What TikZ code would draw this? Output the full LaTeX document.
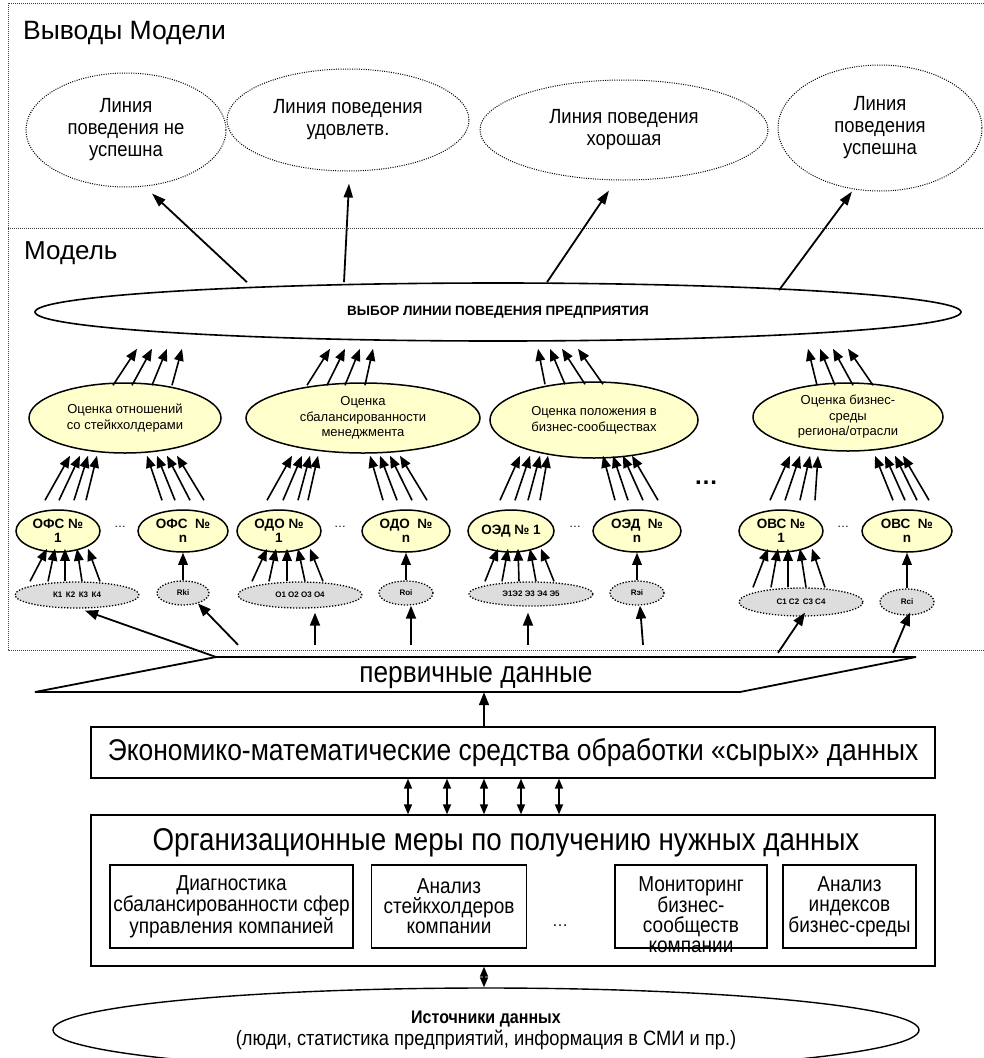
\documentclass[tikz,border=0pt]{standalone}
\usepackage{fontspec}
\setmainfont{Liberation Sans}
\newfontfamily\nrw[FakeStretch=0.88]{Liberation Sans}
\newfontfamily\nrwt[FakeStretch=0.9]{Liberation Sans}
\usetikzlibrary{arrows.meta,shapes.geometric,calc}
\definecolor{ylw}{RGB}{255,255,204}
\definecolor{gry}{RGB}{221,221,221}
\begin{document}
\begin{tikzpicture}[x=1pt,y=-1pt,
  frame/.style={draw=black!75, line width=1pt, dash pattern=on 1pt off 1pt},
  outell/.style={ellipse, draw, line width=1pt, dash pattern=on 1pt off 1.3pt, inner sep=0pt, align=center, font=\nrwt\fontsize{20.5}{22}\selectfont},
  bigell/.style={ellipse, draw, line width=1.6pt, inner sep=0pt, font=\bfseries\fontsize{13.5}{16}\selectfont},
  midell/.style={ellipse, draw, line width=1.5pt, fill=ylw, inner sep=0pt, align=center, font=\fontsize{13}{15.5}\selectfont},
  smell/.style={ellipse, draw, line width=1.5pt, fill=ylw, inner sep=0pt, align=center, minimum height=42, font=\bfseries\fontsize{13.5}{14.5}\selectfont},
  greyell/.style={ellipse, draw, fill=gry, line width=1.3pt, dash pattern=on 1.3pt off 1.7pt, inner sep=0pt, font=\bfseries\fontsize{8}{9}\selectfont},
  arr/.style={line width=1.8pt, -{Triangle[length=14pt,width=9pt]}},
  fanarr/.style={line width=1.6pt, -{Triangle[length=12pt,width=9.5pt]}},
  lowarr/.style={line width=1.8pt, -{Triangle[length=13pt,width=10pt]}},
  dbl/.style={line width=1.5pt, {Triangle[length=10pt,width=8pt]}-{Triangle[length=10pt,width=8pt]}},
  box/.style={draw, line width=1.3pt, inner sep=0pt, align=center},
  boxtxt/.style={align=center, font=\nrw\fontsize{21.6}{20}\selectfont, inner sep=0pt},
  dots/.style={anchor=base, inner sep=0pt, font=\fontsize{12}{14}\selectfont}
]
\useasboundingbox (0,0) rectangle (984,1058);
\clip (0,0) rectangle (984,1058);

% frames
\draw[frame] (8,3) rectangle (995,650);
\draw[frame] (8,228) -- (995,228);
\node[anchor=west, inner sep=0pt, font=\fontsize{26.5}{30}\selectfont] (ttl1) at (23,33) {Выводы Модели};
\node[anchor=west, inner sep=0pt, font=\fontsize{26}{30}\selectfont] (ttl2) at (24,253) {Модель};

% outcome ellipses
\node[outell, minimum width=200, minimum height=114] (t1) at (126,130) {Линия\\поведения не\\успешна};
\node[outell, minimum width=242, minimum height=102] (t2) at (348,120) {Линия поведения\\удовлетв.};
\node[outell, minimum width=288, minimum height=100] (t3) at (624,130) {Линия поведения\\хорошая};
\node[outell, minimum width=204, minimum height=126] (t4) at (880,128) {Линия\\поведения\\успешна};

% big ellipse
\node[bigell, minimum width=926, minimum height=58] (big) at (498,312) {ВЫБОР ЛИНИИ ПОВЕДЕНИЯ ПРЕДПРИЯТИЯ};

\draw[arr] ([xshift=-251]big.north) -- ([xshift=26,yshift=-6]t1.south);
\draw[arr] ([xshift=-154]big.north) -- ([xshift=1,yshift=-12]t2.south);
\draw[arr] ([xshift=49]big.north) -- ([xshift=-15,yshift=-10]t3.south);
\draw[arr] ([xshift=281,yshift=-8]big.north) -- ([xshift=-28]t4.south);

% middle ellipses
\node[midell, minimum width=192, minimum height=70] (A) at (125,418) {Оценка отношений\\со стейкхолдерами};
\node[midell, minimum width=234, minimum height=70] (B) at (363,418) {Оценка\\сбалансированности\\менеджмента};
\node[midell, minimum width=208, minimum height=76] (C) at (594,420) {Оценка положения в\\бизнес-сообществах};
\node[midell, minimum width=190, minimum height=68] (D) at (848,417) {Оценка бизнес-\\среды\\региона/отрасли};

\foreach \a/\b in {-12/-361, 7/-346, 27/-331, 47/-316}
  \draw[fanarr] ([xshift=\a,yshift=-3]A.north) -- ([xshift=\b,yshift=-7]big.south);
\foreach \a/\b in {-56/-168, -36/-153, -18/-138, 2/-125}
  \draw[fanarr] ([xshift=\a,yshift=-3]B.north) -- ([xshift=\b,yshift=-7]big.south);
\foreach \a/\b in {-49/40, -29/52, -9/64, 9/80}
  \draw[fanarr] ([xshift=\a,yshift=-3]C.north) -- ([xshift=\b,yshift=-7]big.south);
\foreach \a/\b in {-31/310, -13/322, 5/335, 25/350}
  \draw[fanarr] ([xshift=\a,yshift=-3]D.north) -- ([xshift=\b,yshift=-7]big.south);

% small ellipses
\node[smell, minimum width=84] (f1) at (58,531) {ОФС №\\1};
\node[smell, minimum width=90] (fn) at (183,531) {ОФС \ №\\n};
\node[smell, minimum width=84] (o1) at (279,531) {ОДО №\\1};
\node[smell, minimum width=88] (on) at (406,531) {ОДО \ №\\n};
\node[smell, minimum width=86] (e1) at (511,531) {ОЭД № 1};
\node[smell, minimum width=88] (en) at (637,531) {ОЭД \ №\\n};
\node[smell, minimum width=84] (v1) at (781,531) {ОВС №\\1};
\node[smell, minimum width=90] (vn) at (907,531) {ОВС \ №\\n};

\node[dots] (d1) at (120,527) {…};
\node[dots] (d2) at (340,527) {…};
\node[dots] (d3) at (575,527) {…};
\node[dots] (d4) at (843,527) {…};
\node[anchor=base, inner sep=0pt, font=\bfseries\fontsize{24}{28}\selectfont] (d5) at (706,484) {…};

\foreach \a/\b in {-13/-55, 1/-45, 16/-37, 28/-28}
  \draw[fanarr] ([xshift=\a,yshift=9]f1.north) -- ([xshift=\b,yshift=-2]A.south);
\foreach \a/\b in {-21/22, -8/32, 7/42, 21/52}
  \draw[fanarr] ([xshift=\a,yshift=9]fn.north) -- ([xshift=\b,yshift=-2]A.south);
\foreach \a/\b in {-12/-71, 4/-61, 19/-53, 29/-45}
  \draw[fanarr] ([xshift=\a,yshift=9]o1.north) -- ([xshift=\b,yshift=-2]B.south);
\foreach \a/\b in {-23/7, -9/17, 6/27, 21/37}
  \draw[fanarr] ([xshift=\a,yshift=9]on.north) -- ([xshift=\b,yshift=-2]B.south);
\foreach \a/\b in {-11/-74, 4/-64, 17/-54, 29/-46}
  \draw[fanarr] ([xshift=\a,yshift=9]e1.north) -- ([xshift=\b,yshift=3]C.south);
\foreach \a/\b in {-22/9, -9/19, 6/29, 21/38}
  \draw[fanarr] ([xshift=\a,yshift=9]en.north) -- ([xshift=\b,yshift=3]C.south);
\foreach \a/\b in {-11/-58, 4/-48, 19/-38, 34/-30}
  \draw[fanarr] ([xshift=\a,yshift=9]v1.north) -- ([xshift=\b,yshift=-4]D.south);
\foreach \a/\b in {-14/27, -2/37, 10/47, 22/55}
  \draw[fanarr] ([xshift=\a,yshift=9]vn.north) -- ([xshift=\b,yshift=-4]D.south);

% grey ellipses
\node[greyell, minimum width=124, minimum height=26] (gk) at (77,595) {К1 \,К2 \,К3 \,К4};
\node[greyell, minimum width=52, minimum height=24] (gr1) at (183,593) {Rki};
\node[greyell, minimum width=124, minimum height=26] (go) at (300,595) {О1 О2 О3 О4};
\node[greyell, minimum width=54, minimum height=24] (gr2) at (406,593) {Roi};
\node[greyell, minimum width=124, minimum height=24] (ge) at (531,594) {Э1Э2 Э3 Э4 Э5};
\node[greyell, minimum width=54, minimum height=24] (gr3) at (637,593) {Rэi};
\node[greyell, minimum width=124, minimum height=28] (gc) at (801,602) {С1 С2 \,С3 С4};
\node[greyell, minimum width=54, minimum height=26] (gr4) at (907,602) {Rci};

\foreach \a/\b in {-47/-11, -29/-3, -12/7, 5/19, 23/30}
  \draw[fanarr] ([xshift=\a]gk.north) -- ([xshift=\b,yshift=4]f1.south);
\foreach \a/\b in {-48/-12, -31/-3, -13/8, 5/19, 23/31}
  \draw[fanarr] ([xshift=\a]go.north) -- ([xshift=\b,yshift=4]o1.south);
\foreach \a/\b in {-46/-13, -29/-3, -12/7, 5/19, 23/30}
  \draw[fanarr] ([xshift=\a]ge.north) -- ([xshift=\b,yshift=4]e1.south);
\foreach \a/\b in {-48/-13, -30/-3, -13/7, 5/19, 24/31}
  \draw[fanarr] ([xshift=\a]gc.north) -- ([xshift=\b,yshift=4]v1.south);
\draw[fanarr] (gr1) -- (fn);
\draw[fanarr] (gr2) -- (on);
\draw[fanarr] (gr3) -- (en);
\draw[fanarr] (gr4) -- (vn);

% primary data parallelogram
\coordinate (ptl) at (216,657);
\coordinate (ptr) at (916,657);
\coordinate (pbr) at (740,692);
\coordinate (pbl) at (35,692);
\draw[line width=1.8pt] (ptl) -- (ptr) -- (pbr) -- (pbl) -- cycle;
\node[inner sep=0pt, minimum width=700, minimum height=35, font=\nrw\fontsize{29.8}{32}\selectfont] (pd) at (476,678) {первичные данные};

\draw[lowarr] (ptl) -- ([xshift=8,yshift=-2]gk.south);
\draw[lowarr] ([xshift=-238,yshift=15.5]pd.north) -- (gr1.-35);
\draw[lowarr] ([xshift=-161,yshift=15.5]pd.north) -- ([xshift=15,yshift=-4]go.south);
\draw[lowarr] ([xshift=-65,yshift=15.5]pd.north) -- ([xshift=5]gr2.south);
\draw[lowarr] ([xshift=52,yshift=15.5]pd.north) -- ([xshift=-3,yshift=-6]ge.south);
\draw[lowarr] ([xshift=167,yshift=15.5]pd.north) -- ([xshift=3]gr3.south);
\draw[lowarr] ([xshift=302,yshift=7.5]pd.north) -- ([xshift=4,yshift=4]gc.south);
\draw[lowarr] ([xshift=417,yshift=7.5]pd.north) -- ([xshift=3,yshift=3]gr4.south);

% processing box
\node[box, minimum width=844, minimum height=51, font=\nrw\fontsize{30}{32}\selectfont] (econ) at (513,752.5) {Экономико-математические средства обработки «сырых» данных};
\draw[lowarr] ([xshift=-29]econ.north) -- ([xshift=8,yshift=3.5]pd.south);

% organisational box
\node[box, minimum width=844, minimum height=151] (org) at (513,890.5) {};
\node[inner sep=0pt, font=\nrw\fontsize{31.5}{34}\selectfont] (orgt) at (506,843) {Организационные меры по получению нужных данных};
\node[box, boxtxt, minimum width=243, minimum height=83] (b1) at (231.5,906.5) {Диагностика\\сбалансированности сфер\\управления компанией};
\node[box, boxtxt, minimum width=155, minimum height=83] (b2) at (449,906.5) {Анализ\\стейкхолдеров\\компании};
\node[box, minimum width=152, minimum height=83] (b3) at (691,906.5) {};
\node[boxtxt] (b3t) at (691,915) {Мониторинг\\бизнес-\\сообществ\\компании};
\node[box, boxtxt, minimum width=133, minimum height=83] (b4) at (849.5,906.5) {Анализ\\индексов\\бизнес-среды};
\node[anchor=base, inner sep=0pt, font=\fontsize{16}{18}\selectfont] (d6) at (560,926) {…};

\foreach \a in {-105,-66,-29,8,46}
  \draw[dbl] ([xshift=\a]econ.south) -- ([xshift=\a]org.north);

% sources
\node[ellipse, draw, line width=1.4pt, minimum width=866, minimum height=84, inner sep=0pt, align=center, font=\nrw\fontsize{20.8}{22}\selectfont] (src) at (486,1030) {{\bfseries\fontsize{18.2}{20}\selectfont Источники данных}\\(люди, статистика предприятий, информация в СМИ и пр.)};
\draw[dbl] ([xshift=-29]org.south) -- ([xshift=-2]src.north);
\end{tikzpicture}
\end{document}
